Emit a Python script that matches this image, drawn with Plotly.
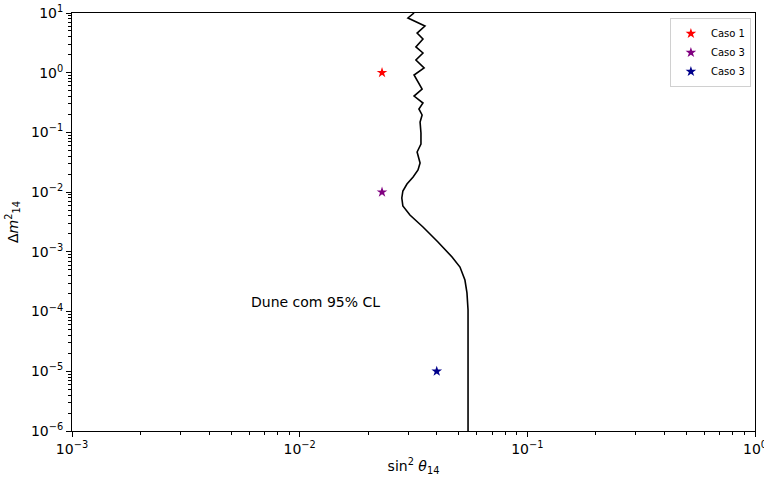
import plotly.graph_objects as go

# Contour (DUNE 95% CL)
contour_sin2 = [0.0318, 0.0299, 0.0355, 0.0328, 0.0348, 0.0324, 0.0348, 0.0324, 0.0352, 0.0318,
                0.0345, 0.0318, 0.0348, 0.0334, 0.0345, 0.0338, 0.0341, 0.0341, 0.0328, 0.0338,
                0.0331, 0.0315, 0.0296, 0.0284, 0.0281, 0.0284, 0.0305, 0.0348, 0.0405, 0.0467,
                0.0506, 0.0532, 0.0543, 0.0549, 0.0549]
contour_dm2 = [10.0, 8.25, 6.05, 4.62, 3.67, 2.70, 2.14, 1.63, 1.20, 0.915,
               0.533, 0.407, 0.311, 0.247, 0.196, 0.149, 0.0978, 0.064, 0.047, 0.0308,
               0.0235, 0.0179, 0.01368, 0.01045, 0.00798, 0.00586, 0.00414, 0.00261, 0.00146, 0.00082,
               0.000557, 0.000337, 0.000205, 0.000106, 1e-6]

# Cases (stars)
case_names = ["Caso 1", "Caso 3", "Caso 3"]
case_sin2 = [0.023, 0.023, 0.04]
case_dm2 = [1.0, 0.01, 1e-5]
case_colors = ["red", "purple", "darkblue"]

x_tick_exp = [-3, -2, -1, 0]
y_tick_exp = [-6, -5, -4, -3, -2, -1, 0, 1]

FONT = "DejaVu Sans"

def pow_label(e):
    s = str(e).replace("-", "\u2212")
    return f"10<sup>{s}</sup>"

def minor_vals(lo, hi):
    vals = []
    for e in range(lo, hi):
        for k in range(2, 10):
            vals.append(k * 10.0 ** e)
    return vals

fig = go.Figure()
fig.add_trace(go.Scatter(x=contour_sin2, y=contour_dm2, mode="lines",
                         line=dict(color="black", width=1.6), showlegend=False,
                         hoverinfo="skip"))
for n, xs, ys, c in zip(case_names, case_sin2, case_dm2, case_colors):
    fig.add_trace(go.Scatter(x=[xs], y=[ys], mode="markers", name=n,
                             marker=dict(symbol="star", color=c, size=8, line=dict(width=0))))

fig.add_annotation(x=-2.222, y=-4.0, xref="x", yref="y", text="Dune com 95% CL",
                   showarrow=False, xanchor="left", yanchor="bottom",
                   font=dict(family=FONT, size=14, color="black"))

axis_common = dict(type="log", showgrid=False, zeroline=False, showline=True,
                   linecolor="black", linewidth=1, mirror=True, ticks="outside",
                   ticklen=5, tickwidth=1, tickcolor="black", ticklabeloverflow="allow",
                   tickfont=dict(family=FONT, size=14, color="black"))

fig.update_xaxes(**axis_common, range=[-3, 0],
                 tickmode="array", tickvals=[10.0 ** e for e in x_tick_exp],
                 ticktext=[pow_label(e) for e in x_tick_exp],
                 minor=dict(tickmode="array", tickvals=minor_vals(-3, 0), ticks="outside",
                            ticklen=3, tickcolor="black", showgrid=False),
                 title=dict(text="sin<sup>2</sup> <i>θ</i><sub>14</sub>",
                            font=dict(family=FONT, size=14, color="black"), standoff=5))
fig.update_yaxes(**axis_common, range=[-6, 1],
                 tickmode="array", tickvals=[10.0 ** e for e in y_tick_exp],
                 ticktext=[pow_label(e) for e in y_tick_exp],
                 minor=dict(tickmode="array", tickvals=minor_vals(-6, 1), ticks="outside",
                            ticklen=3, tickcolor="black", showgrid=False),
                 title=dict(text="Δ<i>m</i><sup>2</sup><sub>14</sub>",
                            font=dict(family=FONT, size=14, color="black"), standoff=9))

fig.update_layout(width=764, height=479,
                  margin=dict(l=72, r=9, t=13, b=48, autoexpand=False),
                  paper_bgcolor="white", plot_bgcolor="white",
                  font=dict(family=FONT, color="black"),
                  legend=dict(x=0.994, y=0.988, xanchor="right", yanchor="top",
                              bgcolor="white", bordercolor="#d0d0d0", borderwidth=1,
                              font=dict(family=FONT, size=10, color="black"),
                              itemwidth=30, tracegroupgap=0))

fig.write_html("out.html", config={"displayModeBar": False},
               post_script="document.body.style.margin='0px';document.body.style.padding='0px';")
